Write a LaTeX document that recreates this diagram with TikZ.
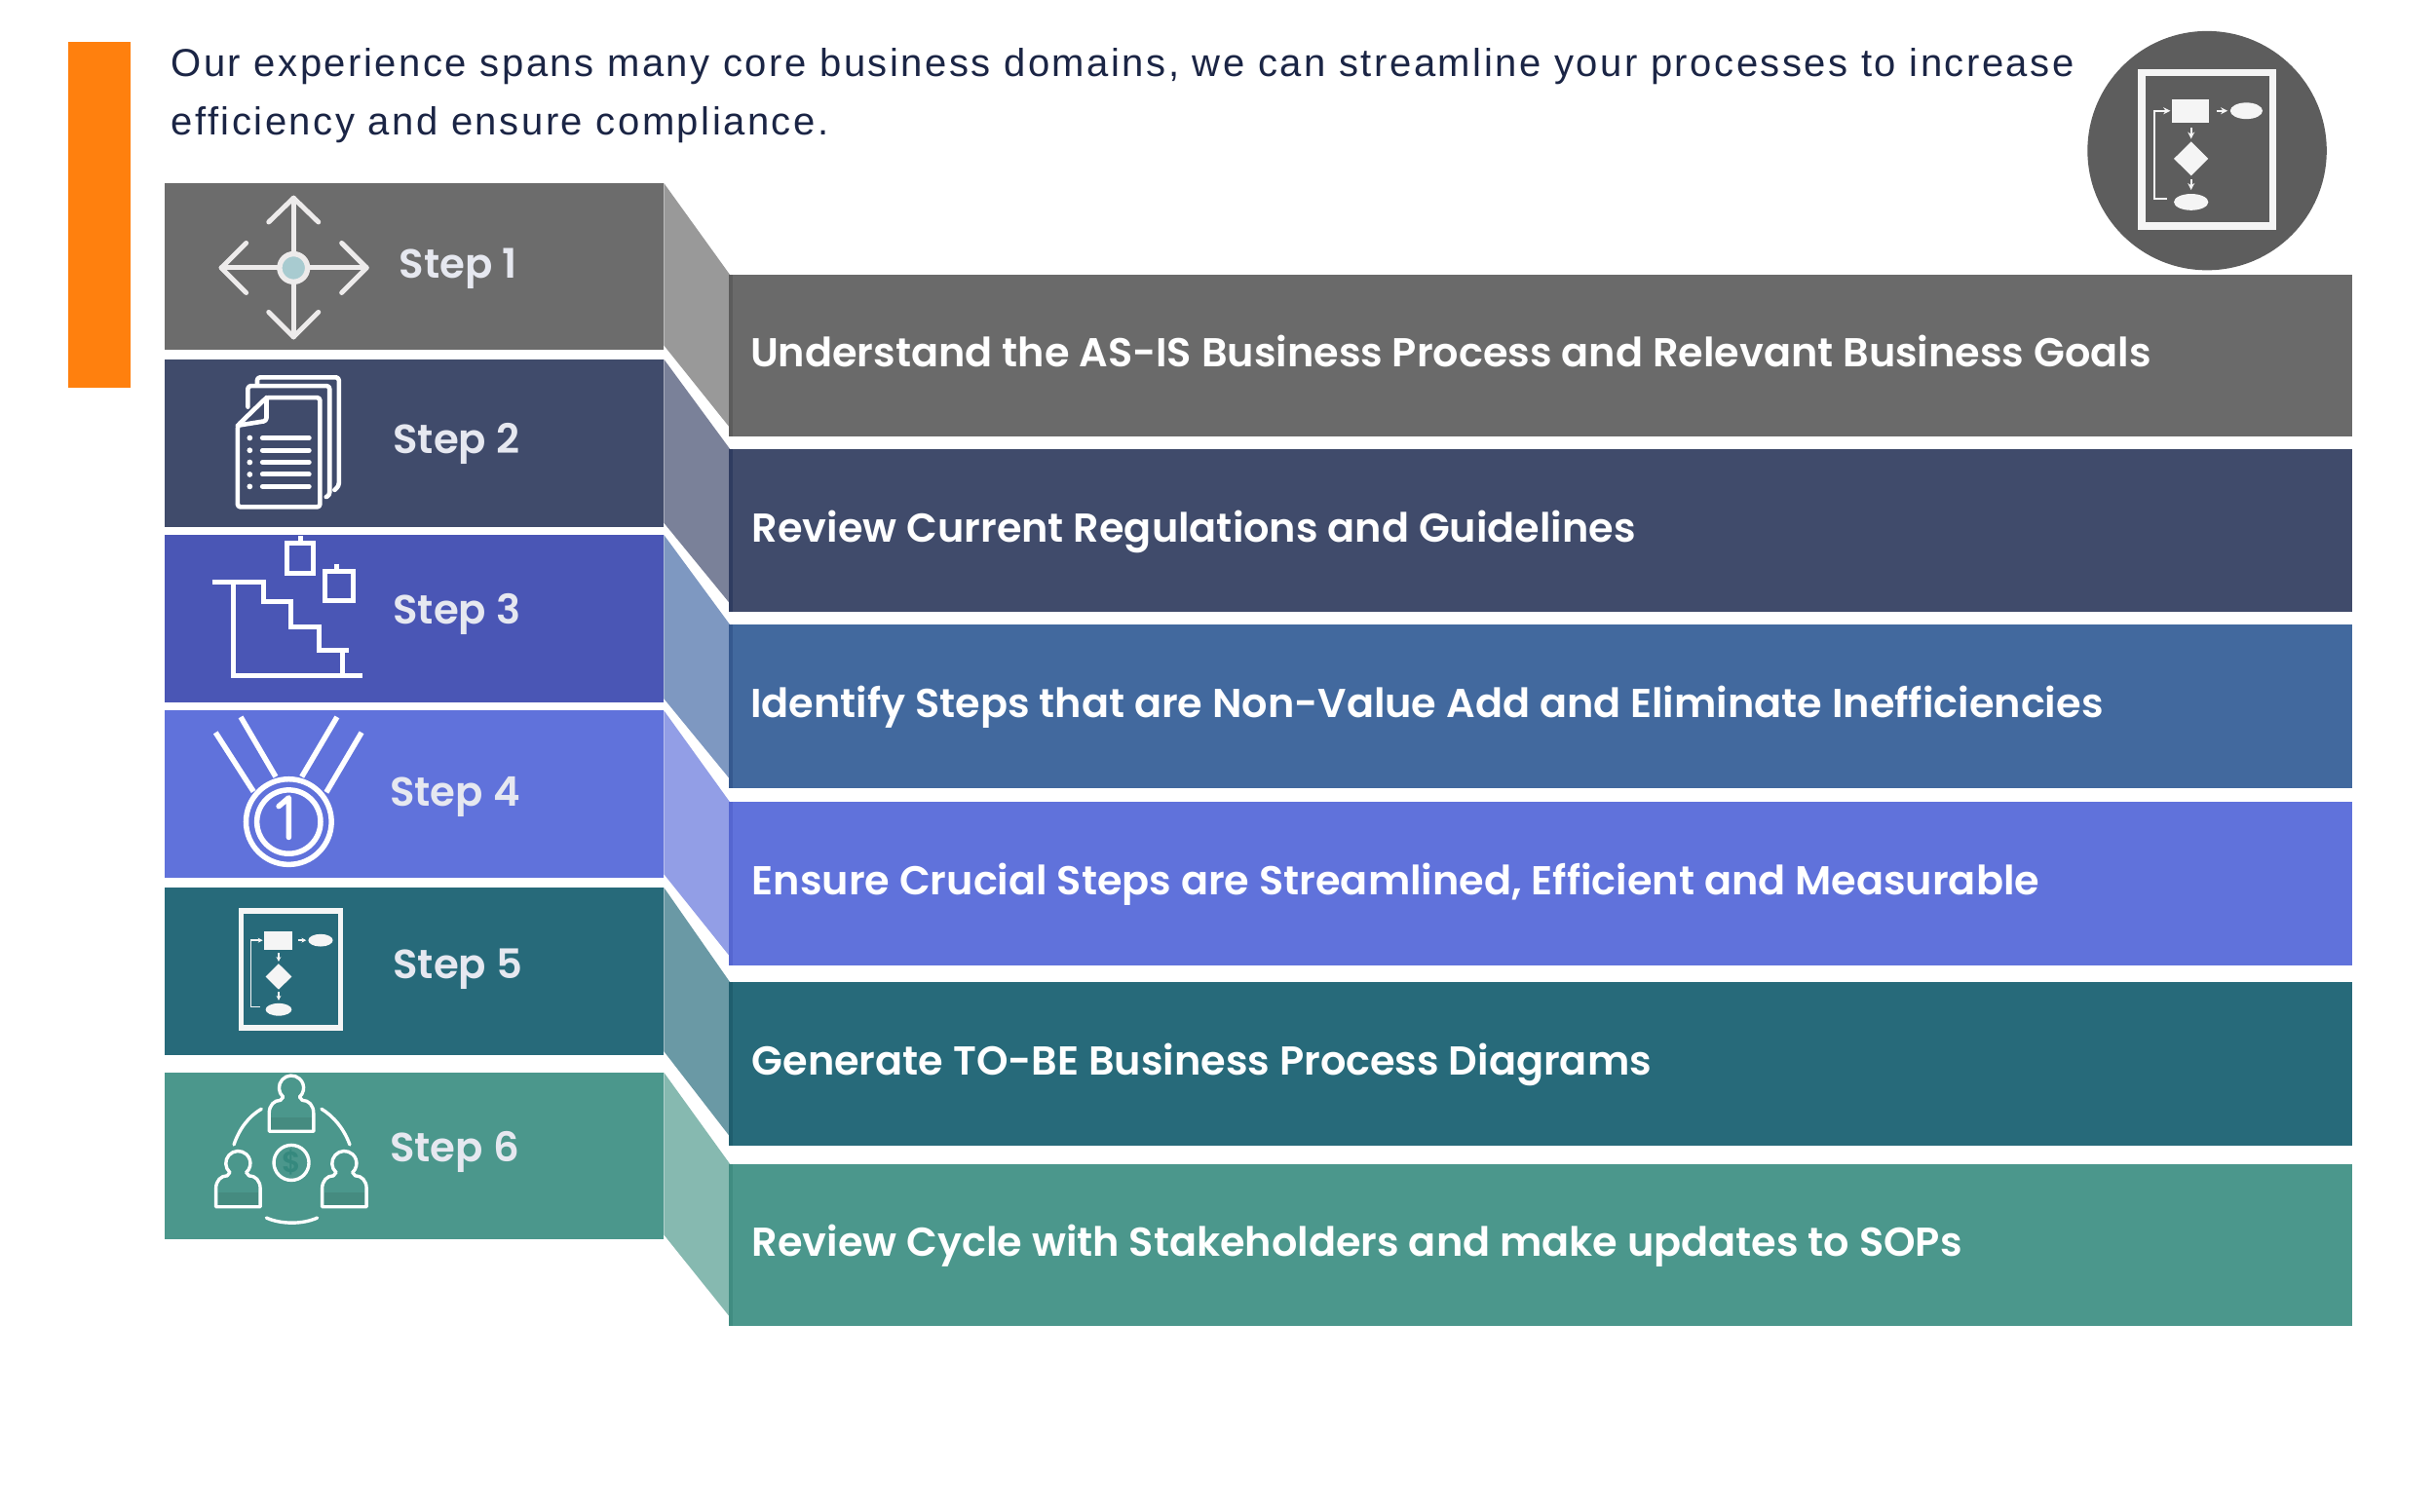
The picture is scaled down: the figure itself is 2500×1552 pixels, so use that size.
\documentclass[tikz,border=0pt]{standalone}
\usepackage{fontspec}
\usetikzlibrary{arrows.meta}
\setmainfont{Liberation Sans}[LetterSpace=6.3]
\newfontfamily\mont{Poppins}[BoldFont={Poppins SemiBold}]
\definecolor{ink}{HTML}{1B2545}
\definecolor{iconw}{HTML}{F5F5F5}
\definecolor{labw}{HTML}{E6E8F0}
\definecolor{orangebar}{HTML}{FF800E}
\definecolor{badge}{HTML}{5D5D5D}
\definecolor{iconarrow}{HTML}{EDEBEB}
\definecolor{c1dot}{HTML}{A8CBD0}
\definecolor{c1l}{HTML}{6C6C6C}\definecolor{c1p}{HTML}{999999}\definecolor{c1r}{HTML}{6A6A6A}\definecolor{c1e}{HTML}{5C5C5C}
\definecolor{c2l}{HTML}{404B6B}\definecolor{c2p}{HTML}{7A8199}\definecolor{c2e}{HTML}{2F3C60}
\definecolor{c3l}{HTML}{4A56B5}\definecolor{c3p}{HTML}{7E98C1}\definecolor{c3r}{HTML}{42699E}\definecolor{c3e}{HTML}{35598F}
\definecolor{c4l}{HTML}{6072DB}\definecolor{c4p}{HTML}{929EE6}\definecolor{c4e}{HTML}{5566D0}
\definecolor{c5l}{HTML}{276A7A}\definecolor{c5p}{HTML}{6A99A5}\definecolor{c5e}{HTML}{1F5E6E}
\definecolor{c6l}{HTML}{4B978C}\definecolor{c6p}{HTML}{86B9B0}\definecolor{c6e}{HTML}{408C81}\definecolor{c6d}{HTML}{35897E}
\definecolor{personband}{HTML}{458B80}
\tikzset{
  bartext/.style={anchor=base west,inner sep=0pt,text=white,font=\mont\bfseries\fontsize{41.4}{46}\selectfont},
  steptext/.style={anchor=base west,inner sep=0pt,text=labw,font=\mont\bfseries\fontsize{41.8}{46}\selectfont},
  intro/.style={anchor=base west,inner sep=0pt,text=ink,font=\fontsize{40}{46}\selectfont},
  iconline/.style={draw=white,line width=4pt,line cap=round,line join=round},
}
% #1 row number, #2 left top, #3 left bottom, #4 right top, #5 right bottom, #6 left colour, #7 para colour, #8 right colour, #9 edge colour
\newcommand{\rowband}[9]{
  \fill[#7] (427.5,#2) -- (470,#4) -- (470,#5-5.5) -- (427.5,#3-2.5) -- cycle;
  \fill[#6] (106,#2) rectangle (427.5,#3);
  \fill[#8] (470,#4) rectangle (1514.5,#5);
  \fill[#9] (469,#4) rectangle (472,#5);
}
% #1 centre x, #2 centre y, #3 x unit, #4 frame width, #5 thin width, #6 tip size
\newcommand{\flowicon}[6]{
  \begin{scope}[shift={(#1,#2)},x=#3,y=-#3]
    \draw[draw=iconw,line width=#4] (-32,-37.5) rectangle (32,37.5);
    \fill[iconw] (-17,-24.5) rectangle (1,-12.7);
    \fill[iconw] (19.2,-18.7) ellipse [x radius=7.9,y radius=4];
    \fill[iconw] (-16.2,4.7) -- (-7.8,-3.6) -- (0.6,4.7) -- (-7.8,13) -- cycle;
    \fill[iconw] (-7.8,25.9) ellipse [x radius=8.4,y radius=4];
    \draw[iconw,line width=#5,-{Stealth[length=#6,width=#6]}] (4.5,-18.7) -- (10,-18.7);
    \draw[iconw,line width=#5,-{Stealth[length=#6,width=#6]}] (-7.8,-10.5) -- (-7.8,-5);
    \draw[iconw,line width=#5,-{Stealth[length=#6,width=#6]}] (-7.8,14.7) -- (-7.8,20);
    \draw[iconw,line width=#5,-{Stealth[length=#6,width=#6]}] (-19.8,24.1) -- (-25.8,24.1) -- (-25.8,-18.7) -- (-18,-18.7);
  \end{scope}
}
% person: #1 x, #2 y of head centre
\newcommand{\person}[2]{
  \begin{scope}[shift={(#1,#2)}]
    \fill[personband] (-13,18.8) rectangle (13,27);
    \draw[iconline,line width=3.4pt] (-5.3,5.9) arc[start angle=132,end angle=408,radius=7.9];
    \draw[iconline,line width=3.4pt] (-5.3,5.9) -- (-7,8) .. controls (-11,8) and (-14.3,11) .. (-14.3,16.5) -- (-14.3,28) -- (14.3,28) -- (14.3,16.5) .. controls (14.3,11) and (11,8) .. (7,8) -- (5.3,5.9);
  \end{scope}
}
\begin{document}
\begin{tikzpicture}[x=1.594pt,y=-1.594pt]
\useasboundingbox (0,0) rectangle (2500pt,-1552pt);
\fill[white] (0,0) rectangle (2500pt,-1552pt);
% orange bar
\fill[orangebar] (44,27) rectangle (84,249.5);
% intro
\node[intro] (intro1) at (110,49) {Our experience spans many core business domains, we can streamline your processes to increase};
\node[intro] (intro2) at (110,87) {efficiency and ensure compliance.};
% rows, bottom to top
\rowband{6}{690.7}{797.7}{749.6}{853.7}{c6l}{c6p}{c6l}{c6e}
\rowband{5}{571.6}{679.6}{632.5}{737.5}{c5l}{c5p}{c5l}{c5e}
\rowband{4}{457.6}{565.5}{516.6}{621.5}{c4l}{c4p}{c4l}{c4e}
\rowband{3}{344.5}{452.5}{402.3}{507.3}{c3l}{c3p}{c3r}{c3e}
\rowband{2}{231.4}{339.3}{289.2}{394.2}{c2l}{c2p}{c2l}{c2e}
\rowband{1}{118}{225}{177}{281}{c1l}{c1p}{c1r}{c1e}
% bar labels
\node[bartext] (b1) at (483,236) {Understand the AS-IS Business Process and Relevant Business Goals};
\node[bartext] (b2) at (484,349) {Review Current Regulations and Guidelines};
\node[bartext] (b3) at (483,462) {Identify Steps that are Non-Value Add and Eliminate Inefficiencies};
\node[bartext] (b4) at (484,576) {Ensure Crucial Steps are Streamlined, Efficient and Measurable};
\node[bartext] (b5) at (484,692) {Generate TO-BE Business Process Diagrams};
\node[bartext] (b6) at (484,809) {Review Cycle with Stakeholders and make updates to SOPs};
% step labels
\node[steptext] (s1) at (257,179) {Step 1};
\node[steptext] (s2) at (253,292) {Step 2};
\node[steptext] (s3) at (253,402) {Step 3};
\node[steptext] (s4) at (251,519) {Step 4};
\node[steptext] (s5) at (253,630) {Step 5};
\node[steptext] (s6) at (251,748) {Step 6};
% icon 1: cross of arrows
\begin{scope}[draw=iconarrow,line width=5pt,line cap=round,line join=round]
  \draw (189,127.5) -- (189,217);
  \draw (142.5,172.5) -- (236,172.5);
  \draw (173,143) -- (189,127.5) -- (205,143);
  \draw (173,201) -- (189,217) -- (205,201);
  \draw (158.5,156.5) -- (142.5,172.5) -- (158.5,188.5);
  \draw (220,156.5) -- (236,172.5) -- (220,188.5);
  \filldraw[fill=c1dot,line width=5.4pt] (189,172.5) circle[radius=9];
\end{scope}
% icon 2: documents
\begin{scope}[shift={(1,1)},iconline,line width=4.6pt]
  \draw[rounded corners=3pt] (152,273) -- (170.6,255) -- (205,255) -- (205,325.5) -- (152,325.5) -- cycle;
  \draw[rounded corners=3pt] (170.6,255) -- (170.6,270) -- (152,273);
  \draw[rounded corners=3pt] (158.6,261) -- (158.6,247.5) -- (211.2,247.5) -- (211.2,318) -- (209,319);
  \draw[rounded corners=3pt] (164.6,246) -- (164.6,242) -- (217.2,242) -- (217.2,312) -- (214.4,314.5);
  \foreach \yy in {281,289,296.7,304.5,312.3} {
    \draw[line width=5pt] (168,\yy) -- (198,\yy);
    \fill[white] (159.8,\yy) circle[radius=1.8];
  }
\end{scope}
% icon 3: stairs
\begin{scope}[shift={(0.5,1)},draw=white,line width=5pt,line join=miter]
  \draw (184,348.5) rectangle (201.4,368.5);
  \draw (193,344) -- (193,348.5);
  \draw (208.5,367) rectangle (227,385.5);
  \draw (216.5,362) -- (216.5,367);
  \draw (136,373.7) -- (169,373.7) -- (169,386.6) -- (187,386.6) -- (187,402.7) -- (205,402.7) -- (205,417.9) -- (224,417.9);
  \draw (149.8,373.7) -- (149.8,434) -- (233,434);
  \draw (220.3,417.9) -- (220.3,434);
\end{scope}
% icon 4: medal
\begin{scope}[shift={(0.5,1.2)},iconline,line width=5.5pt]
  \draw (185.4,528) circle[radius=27.5];
  \draw (185.4,528) circle[radius=20.5];
  \draw (179,518) -- (185.4,512.5) -- (185.4,538);
  \draw[line cap=butt] (138.3,470.5) -- (162.7,508.5);
  \draw[line cap=butt] (154.5,460.5) -- (177,499);
  \draw[line cap=butt] (216.5,460.5) -- (193.8,499);
  \draw[line cap=butt] (232.3,470.5) -- (209.6,509);
\end{scope}
% icon 5 and the round badge
\flowicon{187.2}{624.2}{1.594pt}{5.5pt}{1.5pt}{5pt}
\fill[badge] (1421,97) circle[radius=77];
\flowicon{1421}{96}{2.1pt}{7.5pt}{2pt}{7pt}
% icon 6: people
\person{187.6}{700.5}
\person{153.3}{749.1}
\person{221.7}{749.1}
\begin{scope}[iconline,line width=3.4pt]
  \draw (150.6,737.1) .. controls (154,727) and (160,719) .. (168.3,714.1);
  \draw (207,714.1) .. controls (215,719) and (221.5,727) .. (225.2,737.1);
  \draw (171.5,784.2) .. controls (181,788.5) and (195,788.5) .. (204.3,784.2);
  \draw (187.6,748.7) circle[radius=11.3];
\end{scope}
\node[inner sep=0pt,text=c6d,font=\mont\bfseries\fontsize{30}{32}\selectfont] (coin) at (187.6,748.7) {\$};
\end{tikzpicture}
\end{document}
